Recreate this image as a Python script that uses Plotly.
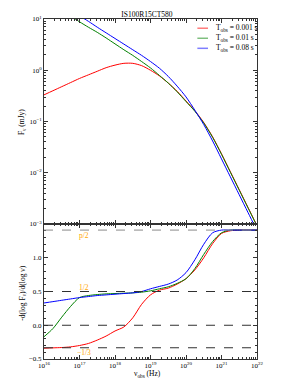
import plotly.graph_objects as go
from plotly.subplots import make_subplots

# ---------------- data ----------------
log_nu = [16.0, 16.25, 16.5, 16.75, 17.0, 17.25, 17.5, 17.75, 18.0, 18.25, 18.5, 18.75,
          19.0, 19.25, 19.5, 19.75, 20.0, 20.25, 20.5, 20.75, 21.0, 21.25, 21.5, 21.75, 22.0]

labels = ["T<sub>obs</sub> = 0.001 s", "T<sub>obs</sub> = 0.01 s", "T<sub>obs</sub> = 0.08 s"]
colors = ["#ff0000", "#008000", "#0000ff"]

# log10 F_nu (mJy)
logF_red = [-0.48, -0.40, -0.32, -0.24, -0.16, -0.09, -0.02, 0.05, 0.10, 0.135, 0.135, 0.09,
            0.0, -0.11, -0.25, -0.41, -0.60, -0.79, -1.02, -1.30, -1.63, -1.98, -2.33, -2.68, -3.03]
logF_green = [1.04, 1.05, 1.06, 1.05, 0.945, 0.84, 0.74, 0.63, 0.515, 0.40, 0.29, 0.17,
              0.045, -0.10, -0.25, -0.42, -0.61, -0.80, -1.03, -1.31, -1.64, -1.99, -2.34, -2.69, -3.04]
logF_blue = [1.40, 1.31, 1.22, 1.14, 1.06, 0.955, 0.84, 0.73, 0.62, 0.51, 0.40, 0.29,
             0.17, 0.04, -0.12, -0.31, -0.52, -0.78, -1.06, -1.38, -1.73, -2.08, -2.43, -2.78, -3.13]

# spectral index -dlogF/dlognu
idx_red = [-0.34, -0.335, -0.33, -0.32, -0.30, -0.27, -0.22, -0.16, -0.085, -0.025, 0.11, 0.31,
           0.45, 0.52, 0.55, 0.61, 0.69, 0.82, 1.00, 1.21, 1.36, 1.40, 1.41, 1.41, 1.41]
idx_green = [-0.17, -0.05, 0.12, 0.28, 0.41, 0.44, 0.455, 0.465, 0.47, 0.475, 0.48, 0.49,
             0.51, 0.54, 0.57, 0.62, 0.69, 0.84, 1.05, 1.24, 1.37, 1.41, 1.41, 1.41, 1.41]
idx_blue = [0.33, 0.35, 0.37, 0.39, 0.41, 0.425, 0.44, 0.45, 0.46, 0.47, 0.48, 0.50,
            0.54, 0.575, 0.61, 0.67, 0.78, 0.97, 1.20, 1.37, 1.41, 1.41, 1.41, 1.41, 1.41]

ref_levels = [1.41, 0.5, 0.0, -1/3]
ref_labels = ["p/2", "1/2", "\u22121/3"]
ref_label_y = [1.33, 0.56, -0.41]

x_tick_exp = [16, 17, 18, 19, 20, 21, 22]
y1_tick_exp = [-3, -2, -1, 0, 1]
y2_ticks = [-0.5, 0.0, 0.5, 1.0]
y2_ticktext = ["\u22120.5", "0.0", "0.5", "1.0"]

title = "IS100R15CT580"
x_title = "\u03bd<sub>obs</sub> (Hz)"
y1_title = "F<sub>\u03bd</sub> (mJy)"
y2_title = "-d(log F<sub>\u03bd</sub>)/d(log \u03bd)"

# ---------------- figure ----------------
FONT = "Liberation Serif"
TXT = "#000000"
AX = "#333333"
nu = [10.0 ** v for v in log_nu]

fig = make_subplots(rows=2, cols=1, shared_xaxes=True, vertical_spacing=0,
                    row_heights=[0.603, 0.397])

for lab, col, lf in zip(labels, colors, [logF_red, logF_green, logF_blue]):
    fig.add_trace(go.Scatter(x=nu, y=[10.0 ** v for v in lf], mode="lines", name=lab,
                             showlegend=False,
                             line=dict(color=col, width=1, shape="spline", smoothing=0.8)),
                  row=1, col=1)
for lab, col, ix in zip(labels, colors, [idx_red, idx_green, idx_blue]):
    fig.add_trace(go.Scatter(x=nu, y=ix, mode="lines", name=lab, showlegend=False,
                             line=dict(color=col, width=1, shape="spline", smoothing=0.8)),
                  row=2, col=1)

for i, lv in enumerate(ref_levels):
    fig.add_shape(type="line", xref="x2 domain", yref="y2", x0=0, x1=1, y0=lv, y1=lv,
                  line=dict(color="#8a8a8a" if i == 0 else "#303030", width=1, dash="dash"))

for lab, yv in zip(ref_labels, ref_label_y):
    fig.add_annotation(x=17.13, y=yv, xref="x2", yref="y2", text=lab, showarrow=False,
                       font=dict(color="#ffa500", size=7.5, family=FONT))

# legend (short line samples + text, upper right of the top panel)
leg_y0, leg_dy = 0.955, 0.049
for i, (lab, col) in enumerate(zip(labels, colors)):
    yy = leg_y0 - i * leg_dy
    fig.add_shape(type="line", xref="x domain", yref="y domain", x0=0.72, x1=0.77,
                  y0=yy, y1=yy, line=dict(color=col, width=1.5), opacity=0.5)
    fig.add_annotation(xref="x domain", yref="y domain", x=0.80, y=yy, xanchor="left",
                       yanchor="middle", text=lab, showarrow=False,
                       font=dict(size=7.5, family=FONT, color=TXT))

# axis titles
fig.add_annotation(xref="paper", yref="paper", x=0.485, y=-0.044, text=x_title,
                   showarrow=False, xanchor="center", yanchor="middle",
                   font=dict(size=7.5, family=FONT, color=TXT))
fig.add_annotation(xref="paper", yref="paper", x=-0.103, y=0.697, text=y1_title,
                   showarrow=False, textangle=-90, xanchor="center", yanchor="middle",
                   font=dict(size=7.5, family=FONT, color=TXT))
fig.add_annotation(xref="paper", yref="paper", x=-0.10, y=0.194, text=y2_title,
                   showarrow=False, textangle=-90, xanchor="center", yanchor="middle",
                   font=dict(size=7.5, family=FONT, color=TXT))

minor_x = [10.0 ** e * m for e in range(16, 22) for m in range(2, 10)]
minor_y1 = [10.0 ** e * m for e in range(-3, 1) for m in range(2, 10)]

axis_common = dict(showline=True, linecolor=AX, linewidth=1, mirror="ticks",
                   ticks="inside", ticklen=4, tickcolor=AX, tickwidth=0.8, showgrid=False,
                   zeroline=False, automargin=False,
                   tickfont=dict(size=7, family=FONT, color=TXT))

fig.update_xaxes(type="log", range=[16, 22], **axis_common,
                 tickvals=[10.0 ** e for e in x_tick_exp],
                 ticktext=[f"10<sup>{e}</sup>" for e in x_tick_exp],
                 minor=dict(tickvals=minor_x, ticks="inside", ticklen=2, tickcolor=AX))
fig.update_xaxes(showticklabels=False, row=1, col=1)

fig.update_yaxes(type="log", range=[-3, 1], **axis_common, row=1, col=1,
                 tickvals=[10.0 ** e for e in y1_tick_exp],
                 ticktext=[f"10<sup>{e}</sup>".replace("-", "\u2212") for e in y1_tick_exp],
                 minor=dict(tickvals=minor_y1, ticks="inside", ticklen=2, tickcolor=AX))
fig.update_yaxes(range=[-0.5, 1.5], **axis_common, row=2, col=1,
                 tickvals=y2_ticks, ticktext=y2_ticktext,
                 minor=dict(dtick=0.1, ticks="inside", ticklen=2, tickcolor=AX))

fig.update_layout(
    width=294, height=392,
    margin=dict(l=44, r=37, t=19, b=33, autoexpand=False),
    paper_bgcolor="white", plot_bgcolor="white",
    font=dict(family=FONT, size=7, color=TXT),
    title=dict(text=title, x=0.5, xanchor="center", y=0.964, yanchor="middle",
               font=dict(size=7.5, family=FONT, color=TXT)),
    showlegend=False,
)

fig.write_html("out.html", config={"displayModeBar": False},
               post_script="document.body.style.margin='0px';document.body.style.padding='0px';")
